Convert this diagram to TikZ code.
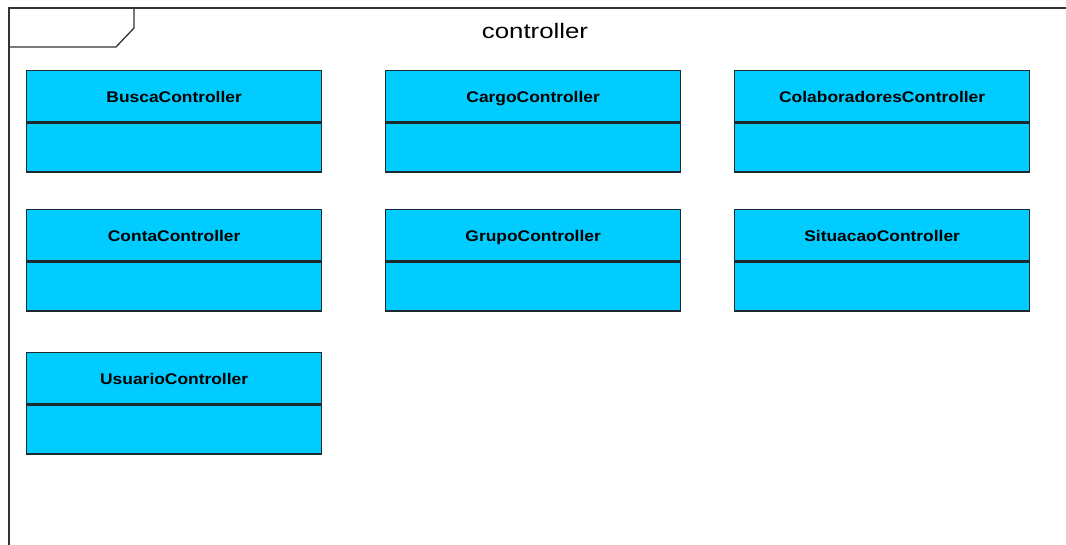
\documentclass[tikz,border=0pt]{standalone}
\usepackage{fontspec}
\setmainfont{Liberation Sans}
\definecolor{classfill}{HTML}{00CCFF}
\definecolor{classline}{HTML}{1A2A30}
\definecolor{frameline}{HTML}{333333}
\tikzset{
  pkgframe/.style={draw=frameline, line width=1.3pt},
  classname/.style={draw=classline, fill=classfill, line width=1.3pt,
    minimum width=295pt, minimum height=51pt, inner sep=0pt,
    text height=13pt, text depth=1pt,
    anchor=north west, font=\fontsize{15.4}{18}\selectfont\bfseries},
  classbody/.style={draw=classline, fill=classfill, line width=1.3pt,
    minimum width=295pt, minimum height=49pt, inner sep=0pt,
    anchor=north west},
}
% one class box: name compartment and an empty attribute compartment
\newcommand{\umlclassbox}[4]{%
  \node[classname] (#1) at (#2,#3) {\scalebox{1.13}[1]{#4}};
  \node[classbody] (#1-body) at (#1.south west) {};
}
\begin{document}
\begin{tikzpicture}[x=1pt,y=-1pt]
  \useasboundingbox (0,0) rectangle (1066,544);
  \clip (0,0) rectangle (1066,544);
  % package frame and its tab
  \draw[pkgframe] (9,560) -- (9,8) -- (1080,8);
  \draw[pkgframe] (9,8) -- (134,8) -- (134,28) -- (116,47) -- (9,47);
  \node[font=\fontsize{21}{24}\selectfont, anchor=base] (title) at (535,38)
    {\scalebox{1.23}[1]{controller}};
  % classes
  \umlclassbox{busca}{26}{70}{BuscaController}
  \umlclassbox{cargo}{385}{70}{CargoController}
  \umlclassbox{colab}{734}{70}{ColaboradoresController}
  \umlclassbox{conta}{26}{209}{ContaController}
  \umlclassbox{grupo}{385}{209}{GrupoController}
  \umlclassbox{situacao}{734}{209}{SituacaoController}
  \umlclassbox{usuario}{26}{352}{UsuarioController}
\end{tikzpicture}
\end{document}
